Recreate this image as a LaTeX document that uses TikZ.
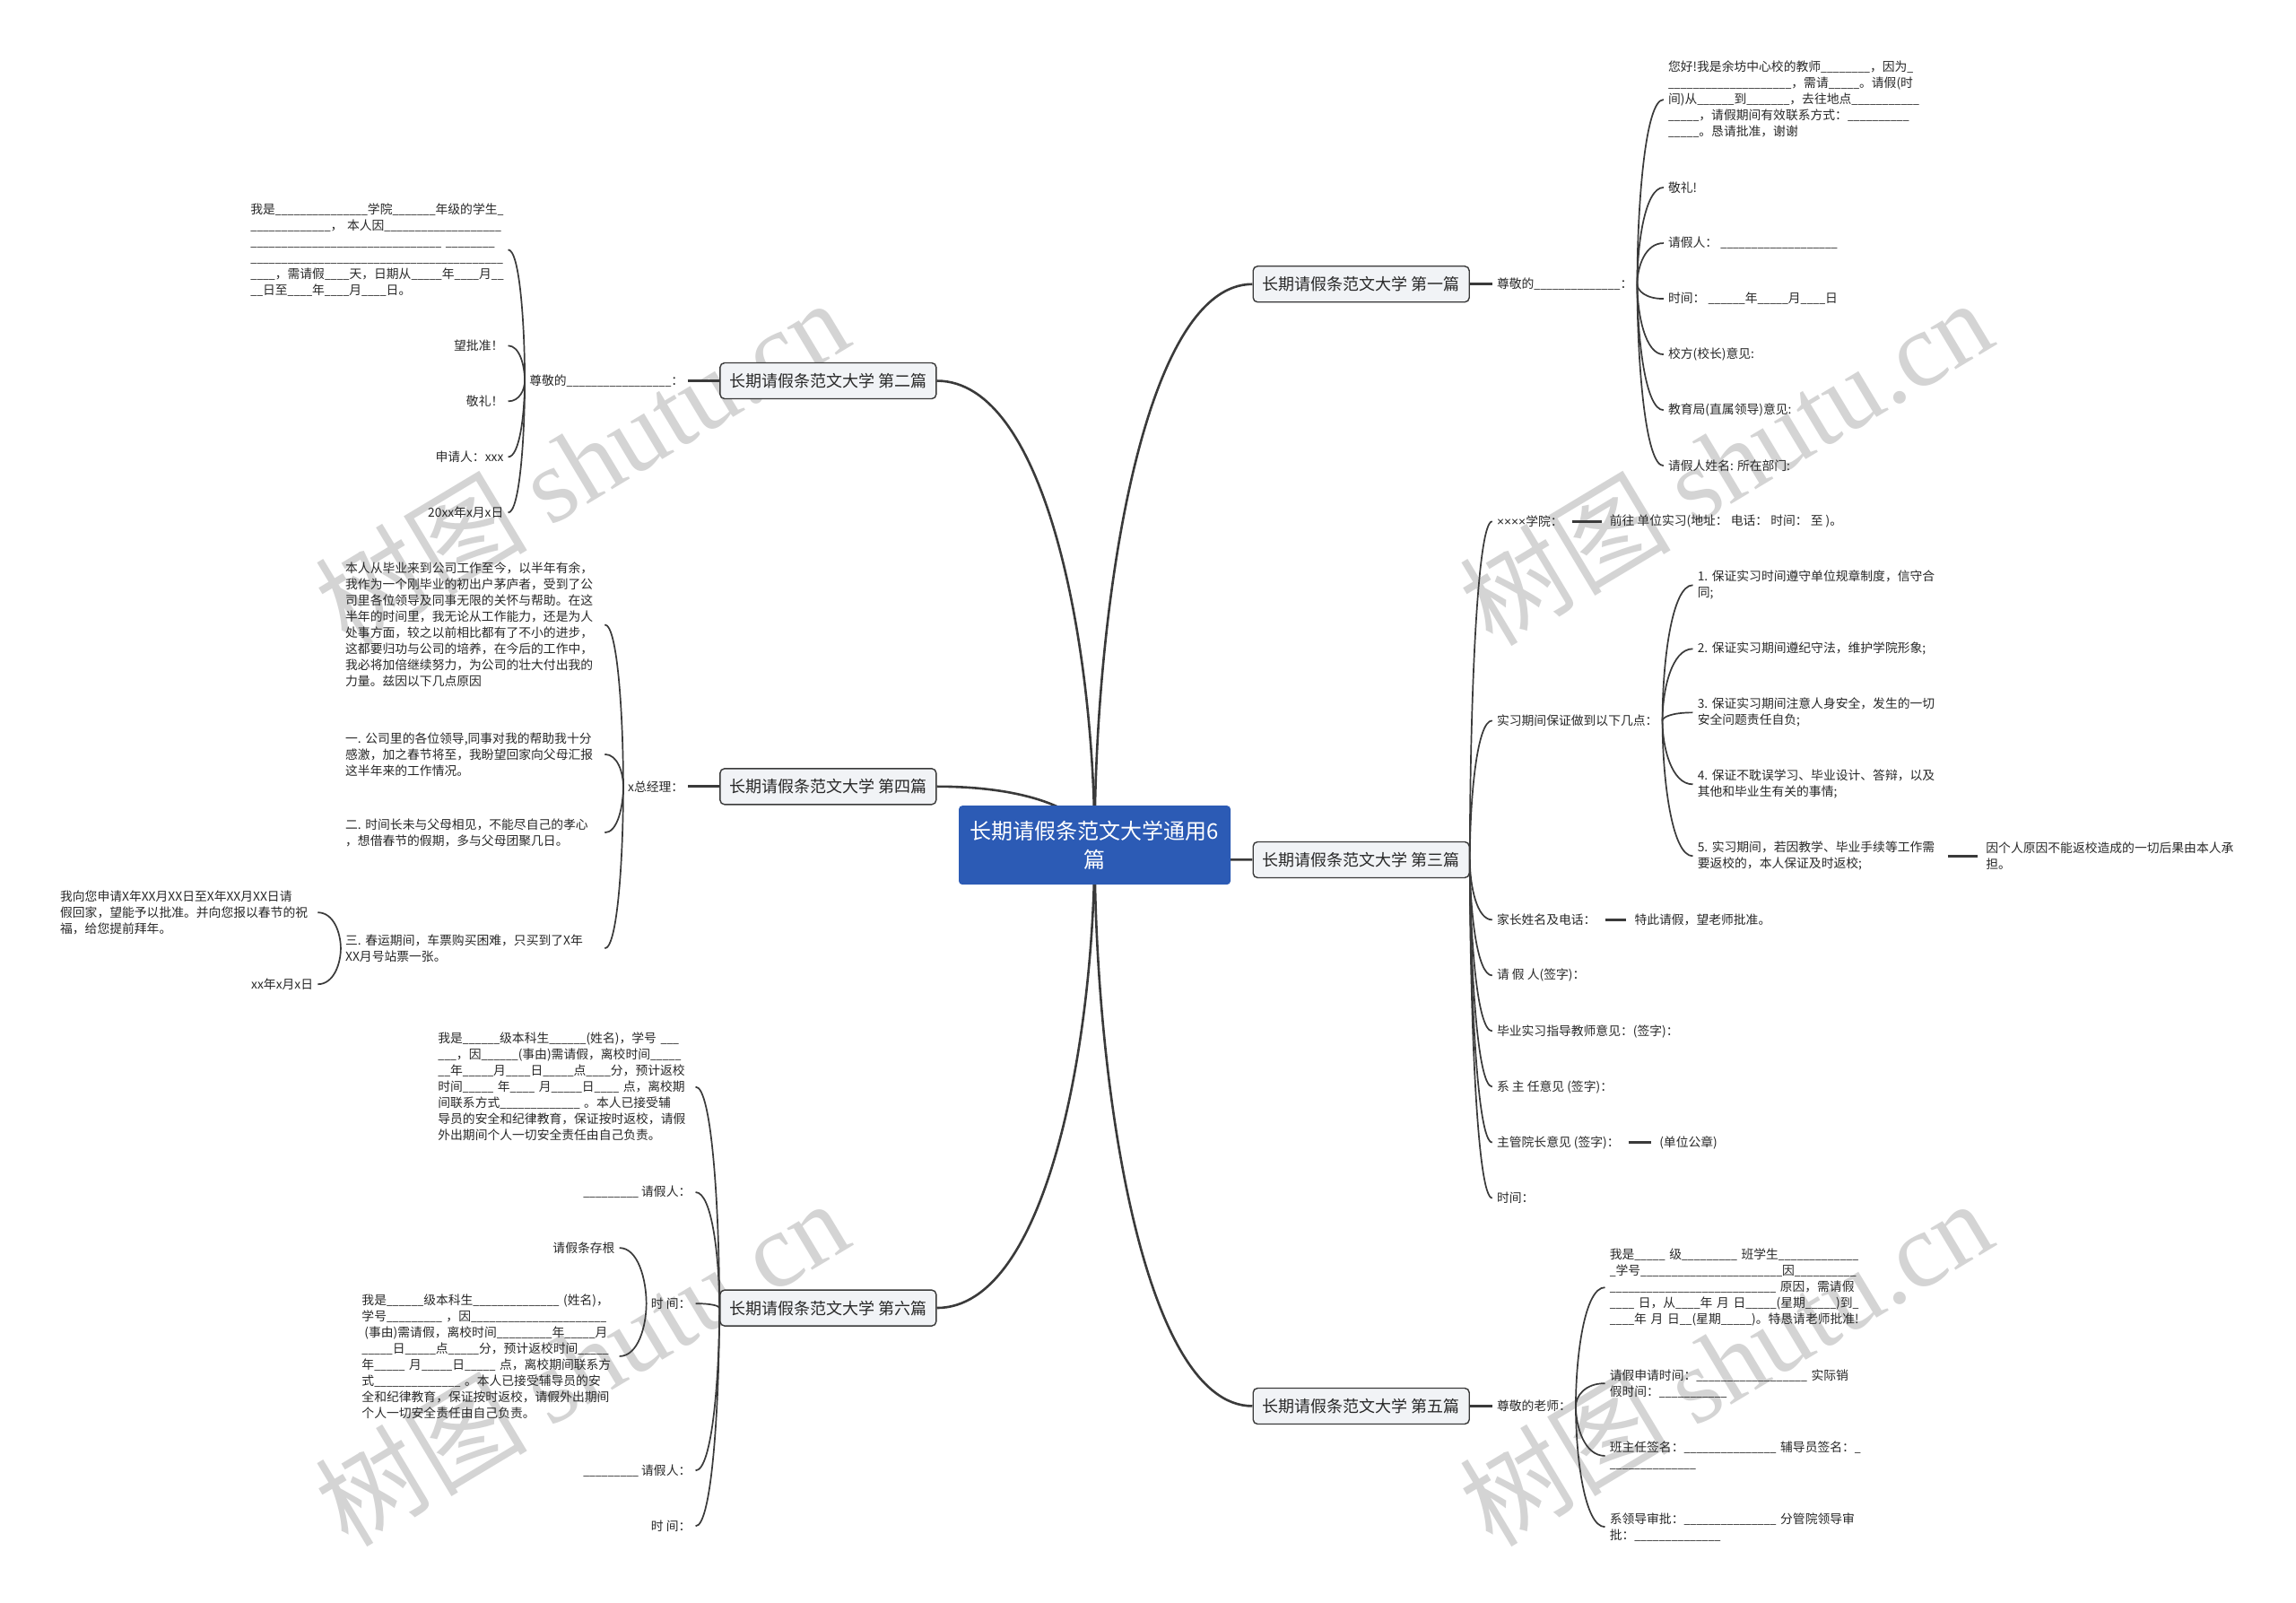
\documentclass[tikz,border=0pt]{standalone}
\usepackage{fontspec}
\usepackage{graphicx}
\setmainfont{Noto Sans CJK SC}
\newfontfamily\latsans{Liberation Sans}
\newfontfamily\wmserif{Liberation Serif}
\usetikzlibrary{calc,backgrounds}
\definecolor{rootblue}{RGB}{44,91,181}
\definecolor{boxfill}{RGB}{241,243,246}
\definecolor{linec}{RGB}{58,58,58}
\definecolor{textc}{RGB}{40,40,40}
\definecolor{wmc}{RGB}{212,212,212}
\ExplSyntaxOn
\NewDocumentCommand\Ub{m}{\scalebox{0.89}[1]{\prg_replicate:nn{#1}{\textunderscore}}}
\ExplSyntaxOff
\newcommand\conn[3]{\draw[#1] (#2) .. controls ($(#2)!0.42!(#2|-#3)$) and ($(#3)!0.7!(#2|-#3)$) .. (#3);}
\tikzset{
  rootbox/.style={fill=rootblue, text=white, rounded corners=4pt, minimum width=303pt, minimum height=88pt, align=center, font=\fontsize{24pt}{32pt}\selectfont, inner sep=0pt},
  branchbox/.style={draw=linec, line width=1.4pt, fill=boxfill, rounded corners=5pt, minimum width=241pt, minimum height=40pt, font=\fontsize{18pt}{22pt}\selectfont, text=textc, inner sep=0pt},
  leaf/.style={font=\fontsize{13.8pt}{18pt}\selectfont, text=textc, inner xsep=5pt, inner ysep=2pt, align=left},
  parabox/.style={leaf, text width=#1},
  mainline/.style={draw=linec, line width=2.6pt},
  fanline/.style={draw=linec, line width=1.7pt},
  stub/.style={draw=linec, line width=2.6pt},
  leafstub/.style={draw=linec, line width=2.6pt, shorten <=5pt, shorten >=4pt},
  wm/.style={text=wmc, font=\fontsize{118pt}{118pt}\selectfont, inner sep=0pt, rotate=31}
}
\begin{document}
\begin{tikzpicture}[x=1.641pt,y=-1.641pt]
\useasboundingbox (0,0) rectangle (1560,1088.4);
\begin{pgfonlayer}{background}
\fill[white] (0,0) rectangle (1560,1088.4);
\end{pgfonlayer}
\begin{scope}[scale=0.995]
% root and branches
\node[rootbox] (root) at (747.5,577) {长期请假条范文大学通用6\\篇};
\node[branchbox] (b1) at (929.5,194) {长期请假条范文大学 第一篇};
\node[branchbox] (b2) at (565.5,260) {长期请假条范文大学 第二篇};
\node[branchbox] (b4) at (565.5,537) {长期请假条范文大学 第四篇};
\node[branchbox] (b3) at (929.5,587) {长期请假条范文大学 第三篇};
\node[branchbox] (b6) at (565.5,893) {长期请假条范文大学 第六篇};
\node[branchbox] (b5) at (929.5,960) {长期请假条范文大学 第五篇};
% branch 1
\node[leaf,anchor=west] (n1) at (1019,194) {尊敬的\Ub{14}：};
\node[parabox=284pt,anchor=west] (p1a) at (1136,68) {您好!我是余坊中心校的教师\Ub{8}，因为\Ub{1}\\ \Ub{20}，需请\Ub{5}。请假(时\\间)从\Ub{6}到\Ub{7}，去往地点\Ub{11}\\ \Ub{5}，请假期间有效联系方式：\Ub{10}\\ \Ub{5}。恳请批准，谢谢};
\node[leaf,anchor=west] (p1b) at (1136,128) {敬礼!};
\node[leaf,anchor=west] (p1c) at (1136,166) {请假人：~\Ub{19}};
\node[leaf,anchor=west] (p1d) at (1136,204) {时间：~\Ub{6}年\Ub{5}月\Ub{4}日};
\node[leaf,anchor=west] (p1e) at (1136,242) {校方(校长)意见:};
\node[leaf,anchor=west] (p1f) at (1136,280) {教育局(直属领导)意见:};
\node[leaf,anchor=west] (p1g) at (1136,318) {请假人姓名: 所在部门:};
% branch 2
\node[leaf,anchor=east] (n2) at (470,260) {尊敬的\Ub{17}：};
\node[parabox=282pt,anchor=east] (p2a) at (347,170.5) {我是\Ub{15}学院\Ub{7}年级的学生\Ub{1}\\ \Ub{13}，~本人因\Ub{19}\\ \Ub{31}~\Ub{8}\\ \Ub{41}\\ \Ub{4}，需请假\Ub{4}天，日期从\Ub{5}年\Ub{4}月\Ub{2}\\ \Ub{2}日至\Ub{4}年\Ub{4}月\Ub{4}日。};
\node[leaf,anchor=east] (p2b) at (347,236) {望批准！};
\node[leaf,anchor=east] (p2c) at (347,274) {敬礼！};
\node[leaf,anchor=east] (p2d) at (347,312) {申请人：xxx};
\node[leaf,anchor=east] (p2e) at (347,350) {20xx年x月x日};
% branch 4
\node[leaf,anchor=east] (n4) at (470,537) {x总经理：};
\node[parabox=284pt,anchor=east] (p4a) at (413,426.5) {本人从毕业来到公司工作至今，以半年有余，\\我作为一个刚毕业的初出户茅庐者，受到了公\\司里各位领导及同事无限的关怀与帮助。在这\\半年的时间里，我无论从工作能力，还是为人\\处事方面，较之以前相比都有了不小的进步，\\这都要归功与公司的培养，在今后的工作中，\\我必将加倍继续努力，为公司的壮大付出我的\\力量。兹因以下几点原因};
\node[parabox=284pt,anchor=east] (p4b) at (413,515) {一.~公司里的各位领导,同事对我的帮助我十分\\感激，加之春节将至，我盼望回家向父母汇报\\这半年来的工作情况。};
\node[parabox=284pt,anchor=east] (p4c) at (413,568.5) {二.~时间长未与父母相见，不能尽自己的孝心\\，想借春节的假期，多与父母团聚几日。};
\node[parabox=284pt,anchor=east] (p4d) at (413,647.5) {三.~春运期间，车票购买困难，只买到了X年\\XX月号站票一张。};
\node[parabox=282pt,anchor=east] (p4e) at (217,623) {我向您申请X年XX月XX日至X年XX月XX日请\\假回家，望能予以批准。并向您报以春节的祝\\福，给您提前拜年。};
\node[leaf,anchor=east] (p4f) at (217,672) {xx年x月x日};
% branch 3
\node[leaf,anchor=west] (c1) at (1019,356) {{\latsans ××××}学院：};
\node[leaf,anchor=west] (c1b) at (1096,356) {前往 单位实习(地址： 电话： 时间： 至 )。};
\node[leaf,anchor=west] (c2) at (1019,492) {实习期间保证做到以下几点：};
\node[parabox=269pt,anchor=west] (c21) at (1156,399.5) {1.~保证实习时间遵守单位规章制度，信守合\\同;};
\node[parabox=269pt,anchor=west] (c22) at (1156,443) {2.~保证实习期间遵纪守法，维护学院形象;};
\node[parabox=269pt,anchor=west] (c23) at (1156,486.5) {3.~保证实习期间注意人身安全，发生的一切\\安全问题责任自负;};
\node[parabox=269pt,anchor=west] (c24) at (1156,535.5) {4.~保证不耽误学习、毕业设计、答辩，以及\\其他和毕业生有关的事情;};
\node[parabox=269pt,anchor=west] (c25) at (1156,584.5) {5.~实习期间，若因教学、毕业手续等工作需\\要返校的，本人保证及时返校;};
\node[parabox=281pt,anchor=west] (c25b) at (1353,584.5) {因个人原因不能返校造成的一切后果由本人承\\担。};
\node[leaf,anchor=west] (c3) at (1019,628) {家长姓名及电话：};
\node[leaf,anchor=west] (c3b) at (1113,628) {特此请假，望老师批准。};
\node[leaf,anchor=west] (c4) at (1019,666) {请~假~人(签字)：};
\node[leaf,anchor=west] (c5) at (1019,704) {毕业实习指导教师意见：(签字)：};
\node[leaf,anchor=west] (c6) at (1019,742) {系~主~任意见~(签字)：};
\node[leaf,anchor=west] (c7) at (1019,780) {主管院长意见~(签字)：};
\node[leaf,anchor=west] (c7b) at (1130,780) {(单位公章)};
\node[leaf,anchor=west] (c8) at (1019,818) {时间：};
% branch 5
\node[leaf,anchor=west] (n5) at (1019,960) {尊敬的老师：};
\node[parabox=277pt,anchor=west] (p5a) at (1096,879) {我是\Ub{5}~级\Ub{9}~班学生\Ub{13}\\ \Ub{1}学号\Ub{23}因\Ub{10}\\ \Ub{27}~原因，需请假\\ \Ub{4}~日，从\Ub{4}年~月~日\Ub{5}(星期\Ub{5})到\Ub{1}\\ \Ub{4}年~月~日\Ub{2}(星期\Ub{5})。特恳请老师批准!};
\node[parabox=277pt,anchor=west] (p5b) at (1096,944.5) {请假申请时间：\Ub{18}~实际销\\假时间：\Ub{11}};
\node[parabox=277pt,anchor=west] (p5c) at (1096,994) {班主任签名：\Ub{15}~辅导员签名：\Ub{1}\\ \Ub{14}};
\node[parabox=277pt,anchor=west] (p5d) at (1096,1042.5) {系领导审批：\Ub{15}~分管院领导审\\批：\Ub{14}};
% branch 6
\node[parabox=282pt,anchor=east] (p6a) at (475,742) {我是\Ub{6}级本科生\Ub{6}(姓名)，学号~\Ub{3}\\ \Ub{3}，因\Ub{6}(事由)需请假，离校时间\Ub{5}\\ \Ub{2}年\Ub{5}月\Ub{4}日\Ub{5}点\Ub{4}分，预计返校\\时间\Ub{5}~年\Ub{4}~月\Ub{5}日\Ub{4}~点，离校期\\间联系方式\Ub{13}~。本人已接受辅\\导员的安全和纪律教育，保证按时返校，请假\\外出期间个人一切安全责任由自己负责。};
\node[leaf,anchor=east] (r6a) at (475,814) {\Ub{9}~请假人：};
\node[leaf,anchor=east] (t6a) at (475,890) {时~间：};
\node[leaf,anchor=east] (s6a) at (423,852) {请假条存根};
\node[parabox=282pt,anchor=east] (p6b) at (423,926) {我是\Ub{6}级本科生\Ub{14}~(姓名)，\\学号\Ub{9}~，因\Ub{22}\\ \hspace*{3pt}(事由)需请假，离校时间\Ub{9}年\Ub{5}月\\ \Ub{5}日\Ub{5}点\Ub{5}分，预计返校时间\Ub{5}\\年\Ub{5}~月\Ub{5}日\Ub{5}~点，离校期间联系方\\式\Ub{14}~。本人已接受辅导员的安\\全和纪律教育，保证按时返校，请假外出期间\\个人一切安全责任由自己负责。};
\node[leaf,anchor=east] (r6b) at (475,1004) {\Ub{9}~请假人：};
\node[leaf,anchor=east] (t6b) at (475,1042) {时~间：};
% connectors and watermark
\begin{pgfonlayer}{background}
\node[wm] (wm1) at (397,315) {树图~{\wmserif shutu.cn}};
\node[wm] (wm2) at (1178,315) {树图~{\wmserif shutu.cn}};
\node[wm] (wm3) at (397,930) {树图~{\wmserif shutu.cn}};
\node[wm] (wm4) at (1178,930) {树图~{\wmserif shutu.cn}};
\conn{mainline}{root.center}{b1.west}
\conn{mainline}{root.center}{b2.east}
\conn{mainline}{root.center}{b4.east}
\conn{mainline}{root.center}{b3.west}
\conn{mainline}{root.center}{b6.east}
\conn{mainline}{root.center}{b5.west}
\draw[stub] (b1.east) -- (n1.west);
\draw[stub] (b2.west) -- (n2.east);
\draw[stub] (b4.west) -- (n4.east);
\draw[stub] (b5.east) -- (n5.west);
\foreach \c in {p1a,p1b,p1c,p1d,p1e,p1f,p1g} {\conn{fanline}{n1.east}{\c.west}}
\foreach \c in {p2a,p2b,p2c,p2d,p2e} {\conn{fanline}{n2.west}{\c.east}}
\foreach \c in {p4a,p4b,p4c,p4d} {\conn{fanline}{n4.west}{\c.east}}
\foreach \c in {p4e,p4f} {\conn{fanline}{p4d.west}{\c.east}}
\foreach \c in {c1,c2,c3,c4,c5,c6,c7,c8} {\conn{fanline}{b3.east}{\c.west}}
\foreach \c in {c21,c22,c23,c24,c25} {\conn{fanline}{c2.east}{\c.west}}
\draw[leafstub] (c1.east) -- (c1b.west);
\draw[leafstub] (c25.east) -- (c25b.west);
\draw[leafstub] (c3.east) -- (c3b.west);
\draw[leafstub] (c7.east) -- (c7b.west);
\foreach \c in {p5a,p5b,p5c,p5d} {\conn{fanline}{n5.east}{\c.west}}
\foreach \c in {p6a,r6a,t6a,r6b,t6b} {\conn{fanline}{b6.west}{\c.east}}
\foreach \c in {s6a,p6b} {\conn{fanline}{t6a.west}{\c.east}}
\end{pgfonlayer}
\end{scope}
\end{tikzpicture}
\end{document}
